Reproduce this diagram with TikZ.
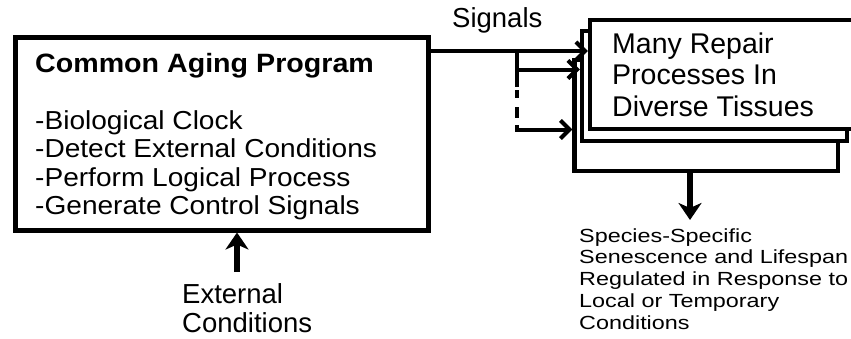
\documentclass[tikz,border=0pt]{standalone}
\usepackage{fontspec}
\setmainfont{Liberation Sans}
\newfontfamily\fnA[FakeStretch=1.08]{Liberation Sans}
\newfontfamily\fnB[FakeStretch=1.23]{Liberation Sans}
\newfontfamily\fnC{Liberation Sans}
\usetikzlibrary{arrows.meta}
\begin{document}
\begin{tikzpicture}[x=1pt,y=-1pt,
  lbox/.style={draw, fill=white, line width=5pt, inner sep=0pt},
  rbox/.style={draw, fill=white, line width=4.5pt, inner sep=0pt},
  txt/.style={anchor=base west, inner sep=0pt},
  sigline/.style={line width=4pt},
  sigarrow/.style={line width=4pt, -{Straight Barb[length=9pt,width=18pt]}},
  bigarrow/.style={line width=5.5pt, -{Stealth[length=17pt,width=23pt,inset=5pt]}}]
\useasboundingbox[fill=white] (0,0) rectangle (851,338);

% left box
\node[lbox, minimum width=413pt, minimum height=193pt] (cap) at (221.5,133.5) {};
\node[txt, font=\fnA\bfseries\fontsize{26.5}{28}\selectfont] (title) at (35,72) {Common Aging Program};
\node[txt, font=\fnA\fontsize{26}{28}\selectfont] (l1) at (35,129) {-Biological Clock};
\node[txt, font=\fnA\fontsize{26}{28}\selectfont] (l2) at (35,157.5) {-Detect External Conditions};
\node[txt, font=\fnA\fontsize{26}{28}\selectfont] (l3) at (35,186) {-Perform Logical Process};
\node[txt, font=\fnA\fontsize{26}{28}\selectfont] (l4) at (35,214.5) {-Generate Control Signals};

% right stacked boxes
\node[rbox, minimum width=263.5pt, minimum height=111pt] (back) at (706.25,115.5) {};
\node[rbox, minimum width=265pt, minimum height=110pt] (mid) at (714.5,86) {};
\node[rbox, minimum width=280pt, minimum height=109pt] (front) at (730,74.5) {};
\node[txt, font=\fnC\fontsize{28.5}{30}\selectfont] (r1) at (612,53) {Many Repair};
\node[txt, font=\fnC\fontsize{28.5}{30}\selectfont] (r2) at (612,84.5) {Processes In};
\node[txt, font=\fnC\fontsize{28.5}{30}\selectfont] (r3) at (612,116) {Diverse Tissues};

% signals
\node[txt, font=\fnC\fontsize{27.5}{30}\selectfont] (signals) at (452,27) {Signals};
\coordinate (b1) at (517,51);
\coordinate (b2) at (517,69.5);
\coordinate (bd) at (517,85);
\coordinate (b3) at (517,129.5);
\draw[sigarrow] (cap.east |- b1) -- (front.west |- b1);
\draw[sigline, line cap=rect] (b1) -- (bd);
\draw[sigline, dash pattern={on 0pt off 5pt on 8pt off 9pt on 11pt off 7pt on 20pt}] (bd) -- (b3);
\draw[sigarrow] ([xshift=-2pt]b3) -- (back.west |- b3);
\draw[sigarrow] (b2) -- (mid.west |- b2);

% output
\coordinate (o) at (690,220);
\draw[bigarrow] (back.south -| o) -- (o);
\node[txt, font=\fnB\fontsize{19}{21}\selectfont] (s1) at (579,242) {Species-Specific};
\node[txt, font=\fnB\fontsize{19}{21}\selectfont] (s2) at (579,263.7) {Senescence and Lifespan};
\node[txt, font=\fnB\fontsize{19}{21}\selectfont] (s3) at (579,285.4) {Regulated in Response to};
\node[txt, font=\fnB\fontsize{19}{21}\selectfont] (s4) at (579,307) {Local or Temporary};
\node[txt, font=\fnB\fontsize{19}{21}\selectfont] (s5) at (579,329) {Conditions};

% input
\coordinate (ec) at (237,272);
\draw[bigarrow] (ec) -- (cap.south -| ec);
\node[txt, font=\fnC\fontsize{27.5}{30}\selectfont] (e1) at (182,303) {External};
\node[txt, font=\fnC\fontsize{27.5}{30}\selectfont] (e2) at (182,332) {Conditions};
\end{tikzpicture}
\end{document}
